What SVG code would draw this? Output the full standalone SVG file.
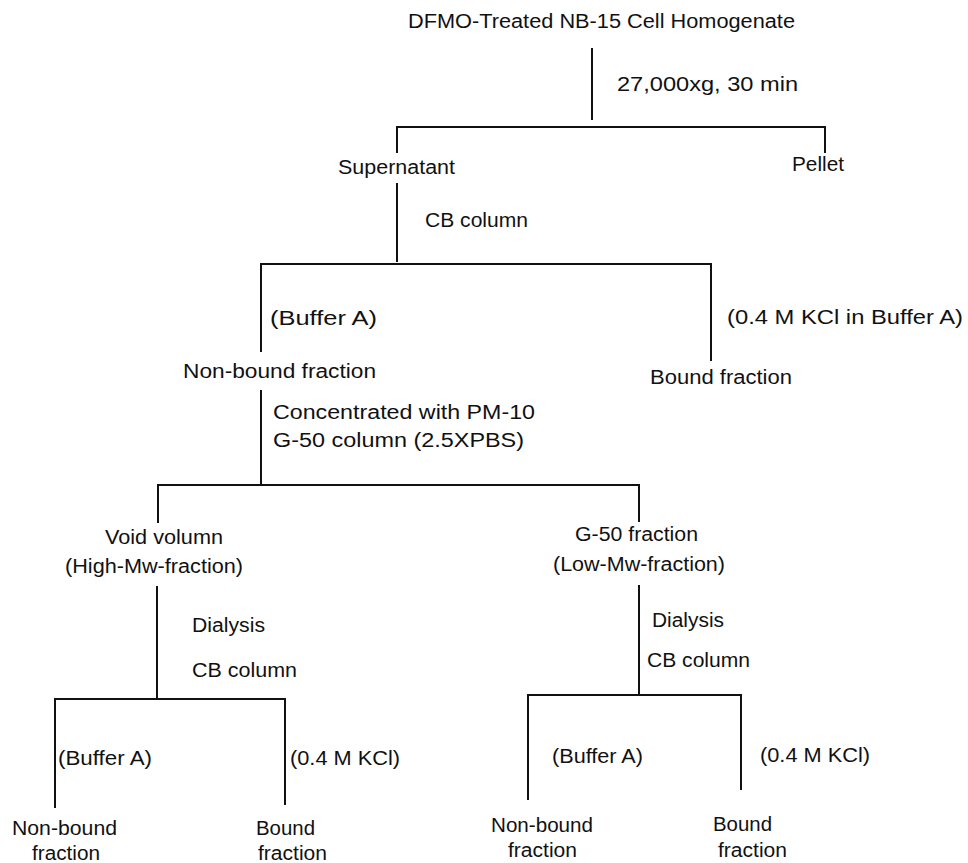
<svg xmlns="http://www.w3.org/2000/svg" width="968" height="863" viewBox="0 0 968 863">
<style>
text{font-family:"Liberation Sans",Arial,sans-serif;font-size:20px;fill:#111}
.c line,.c polyline{stroke:#111;stroke-width:2;fill:none}
</style>
<rect width="968" height="863" fill="#fff"/>
<g class="c" id="connectors">
<line x1="592" y1="48" x2="592" y2="120"/>
<polyline points="397,153 397,127 825,127 825,153"/>
<line x1="397" y1="183" x2="397" y2="262"/>
<polyline points="261,352 261,264 711,264 711,361"/>
<line x1="261" y1="390" x2="261" y2="486"/>
<polyline points="158,523 158,485 639,485 639,522"/>
<line x1="157" y1="586" x2="157" y2="699"/>
<polyline points="55,808 55,699 285,699 285,805"/>
<line x1="639" y1="585" x2="639" y2="695"/>
<polyline points="528,800 528,695 741,695 741,790"/>
</g>
<g id="homogenate"><text x="408" y="28" textLength="387" lengthAdjust="spacingAndGlyphs">DFMO-Treated NB-15 Cell Homogenate</text></g>
<g id="lbl-centrifuge"><text x="617" y="91" textLength="181" lengthAdjust="spacingAndGlyphs">27,000xg,  30  min</text></g>
<g id="supernatant"><text x="338" y="174" textLength="117" lengthAdjust="spacingAndGlyphs">Supernatant</text></g>
<g id="pellet"><text x="792" y="171" textLength="52" lengthAdjust="spacingAndGlyphs">Pellet</text></g>
<g id="lbl-cb1"><text x="425" y="227" textLength="103" lengthAdjust="spacingAndGlyphs">CB column</text></g>
<g id="lbl-bufA1"><text x="270" y="325" textLength="107" lengthAdjust="spacingAndGlyphs">(Buffer  A)</text></g>
<g id="lbl-kcl1"><text x="727" y="324" textLength="236" lengthAdjust="spacingAndGlyphs">(0.4 M KCl in Buffer A)</text></g>
<g id="nonbound1"><text x="183" y="378" textLength="193" lengthAdjust="spacingAndGlyphs">Non-bound  fraction</text></g>
<g id="bound1"><text x="650" y="384" textLength="142" lengthAdjust="spacingAndGlyphs">Bound  fraction</text></g>
<g id="lbl-conc"><text x="273" y="419" textLength="262" lengthAdjust="spacingAndGlyphs">Concentrated  with  PM-10</text></g>
<g id="lbl-g50"><text x="273" y="447" textLength="251" lengthAdjust="spacingAndGlyphs">G-50  column  (2.5XPBS)</text></g>
<g id="void"><text x="105" y="544" textLength="118" lengthAdjust="spacingAndGlyphs">Void volumn</text><text x="65" y="573" textLength="178" lengthAdjust="spacingAndGlyphs">(High-Mw-fraction)</text></g>
<g id="g50frac"><text x="575" y="541" textLength="123" lengthAdjust="spacingAndGlyphs">G-50 fraction</text><text x="553" y="571" textLength="172" lengthAdjust="spacingAndGlyphs">(Low-Mw-fraction)</text></g>
<g id="lbl-dial1"><text x="192" y="632" textLength="73" lengthAdjust="spacingAndGlyphs">Dialysis</text><text x="192" y="677" textLength="105" lengthAdjust="spacingAndGlyphs">CB column</text></g>
<g id="lbl-dial2"><text x="652" y="627" textLength="72" lengthAdjust="spacingAndGlyphs">Dialysis</text><text x="647" y="667" textLength="103" lengthAdjust="spacingAndGlyphs">CB column</text></g>
<g id="lbl-bufA2"><text x="58" y="765" textLength="94" lengthAdjust="spacingAndGlyphs">(Buffer A)</text></g>
<g id="lbl-kcl2"><text x="290" y="765" textLength="110" lengthAdjust="spacingAndGlyphs">(0.4 M KCl)</text></g>
<g id="lbl-bufA3"><text x="552" y="763" textLength="91" lengthAdjust="spacingAndGlyphs">(Buffer A)</text></g>
<g id="lbl-kcl3"><text x="760" y="762" textLength="110" lengthAdjust="spacingAndGlyphs">(0.4 M KCl)</text></g>
<g id="nonbound2"><text x="12" y="835" textLength="105" lengthAdjust="spacingAndGlyphs">Non-bound</text><text x="32" y="860" textLength="68" lengthAdjust="spacingAndGlyphs">fraction</text></g>
<g id="bound2"><text x="256" y="835" textLength="59" lengthAdjust="spacingAndGlyphs">Bound</text><text x="258" y="860" textLength="69" lengthAdjust="spacingAndGlyphs">fraction</text></g>
<g id="nonbound3"><text x="491" y="832" textLength="102" lengthAdjust="spacingAndGlyphs">Non-bound</text><text x="508" y="857" textLength="69" lengthAdjust="spacingAndGlyphs">fraction</text></g>
<g id="bound3"><text x="713" y="831" textLength="59" lengthAdjust="spacingAndGlyphs">Bound</text><text x="718" y="857" textLength="69" lengthAdjust="spacingAndGlyphs">fraction</text></g>
</svg>
